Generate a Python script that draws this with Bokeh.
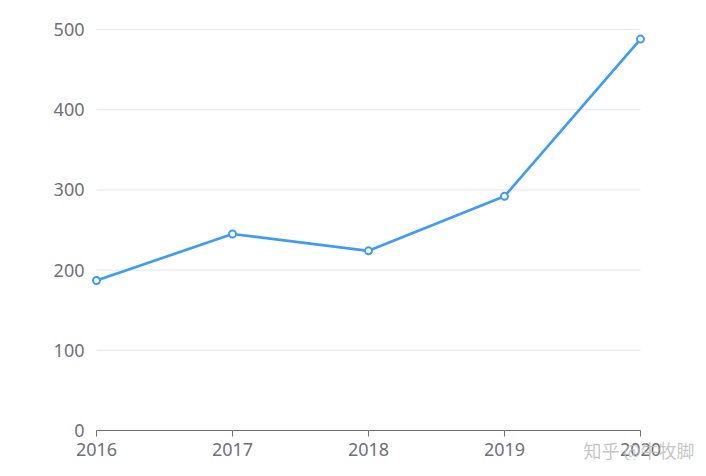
from bokeh.plotting import figure
from bokeh.models import Range1d, FixedTicker, Label, ColumnDataSource
from bokeh.embed import file_html
from bokeh.resources import INLINE

years = [2016, 2017, 2018, 2019, 2020]
values = [187, 245, 224, 292, 488]
y_ticks = [0, 100, 200, 300, 400, 500]
watermark = "知乎 @牛牧脚"

src = ColumnDataSource(dict(x=years, y=values))

W, H = 700, 460
px_per_year = 136.0
px_per_unit = 401 / 500
x_start = years[0] - 96 / px_per_year
x_end = years[0] + (W - 96) / px_per_year
y_bottom = -(H - 430) / px_per_unit
y_top = 500 + 29 / px_per_unit

p = figure(width=W, height=H, output_backend="svg", toolbar_location=None,
           x_range=Range1d(x_start, x_end), y_range=Range1d(y_bottom, y_top),
           min_border=0)
p.outline_line_color = None
p.background_fill_color = "white"
p.border_fill_color = "white"

font = "Noto Sans"
p.xaxis.fixed_location = 0
p.yaxis.fixed_location = years[0]
p.xaxis.ticker = FixedTicker(ticks=years)
p.yaxis.ticker = FixedTicker(ticks=y_ticks)
p.xaxis.axis_line_color = None
p.xaxis.major_tick_line_color = "#6E7079"
p.xaxis.major_tick_out = 6
p.xaxis.major_tick_in = 0
p.xaxis.minor_tick_line_color = None
p.xaxis.major_label_text_color = "#6E7079"
p.xaxis.major_label_text_font = font
p.xaxis.major_label_text_font_size = "18px"
p.xaxis.major_label_standoff = 6

p.yaxis.axis_line_color = None
p.yaxis.major_tick_line_color = None
p.yaxis.major_tick_out = 0
p.yaxis.major_tick_in = 0
p.yaxis.minor_tick_line_color = None
p.yaxis.major_label_text_color = "#6E7079"
p.yaxis.major_label_text_font = font
p.yaxis.major_label_text_font_size = "18px"
p.yaxis.major_label_standoff = 12

p.xgrid.grid_line_color = None
p.ygrid.grid_line_color = None

# horizontal grid lines spanning exactly the category extent
grid_y = y_ticks[1:]
p.segment(x0=[years[0]] * len(grid_y), x1=[years[-1]] * len(grid_y), y0=grid_y, y1=grid_y,
          line_color="#E0E6F1", line_width=1)
# x axis line
p.segment(x0=[years[0]], x1=[years[-1]], y0=[0], y1=[0], line_color="#6E7079", line_width=1)

p.line("x", "y", source=src, line_color="#3F9CF2", line_width=2.7)
p.scatter("x", "y", source=src, size=7, fill_color="white", line_color="#3F9CF2", line_width=2)

wm = Label(x=2019.58, y=-24, text=watermark,
           text_font="Noto Sans CJK SC", text_font_size="18px", text_color="#BBBBBB",
           text_alpha=0.85, text_baseline="middle", level="overlay")
p.add_layout(wm)

open("out.html", "w").write(file_html(p, INLINE))
